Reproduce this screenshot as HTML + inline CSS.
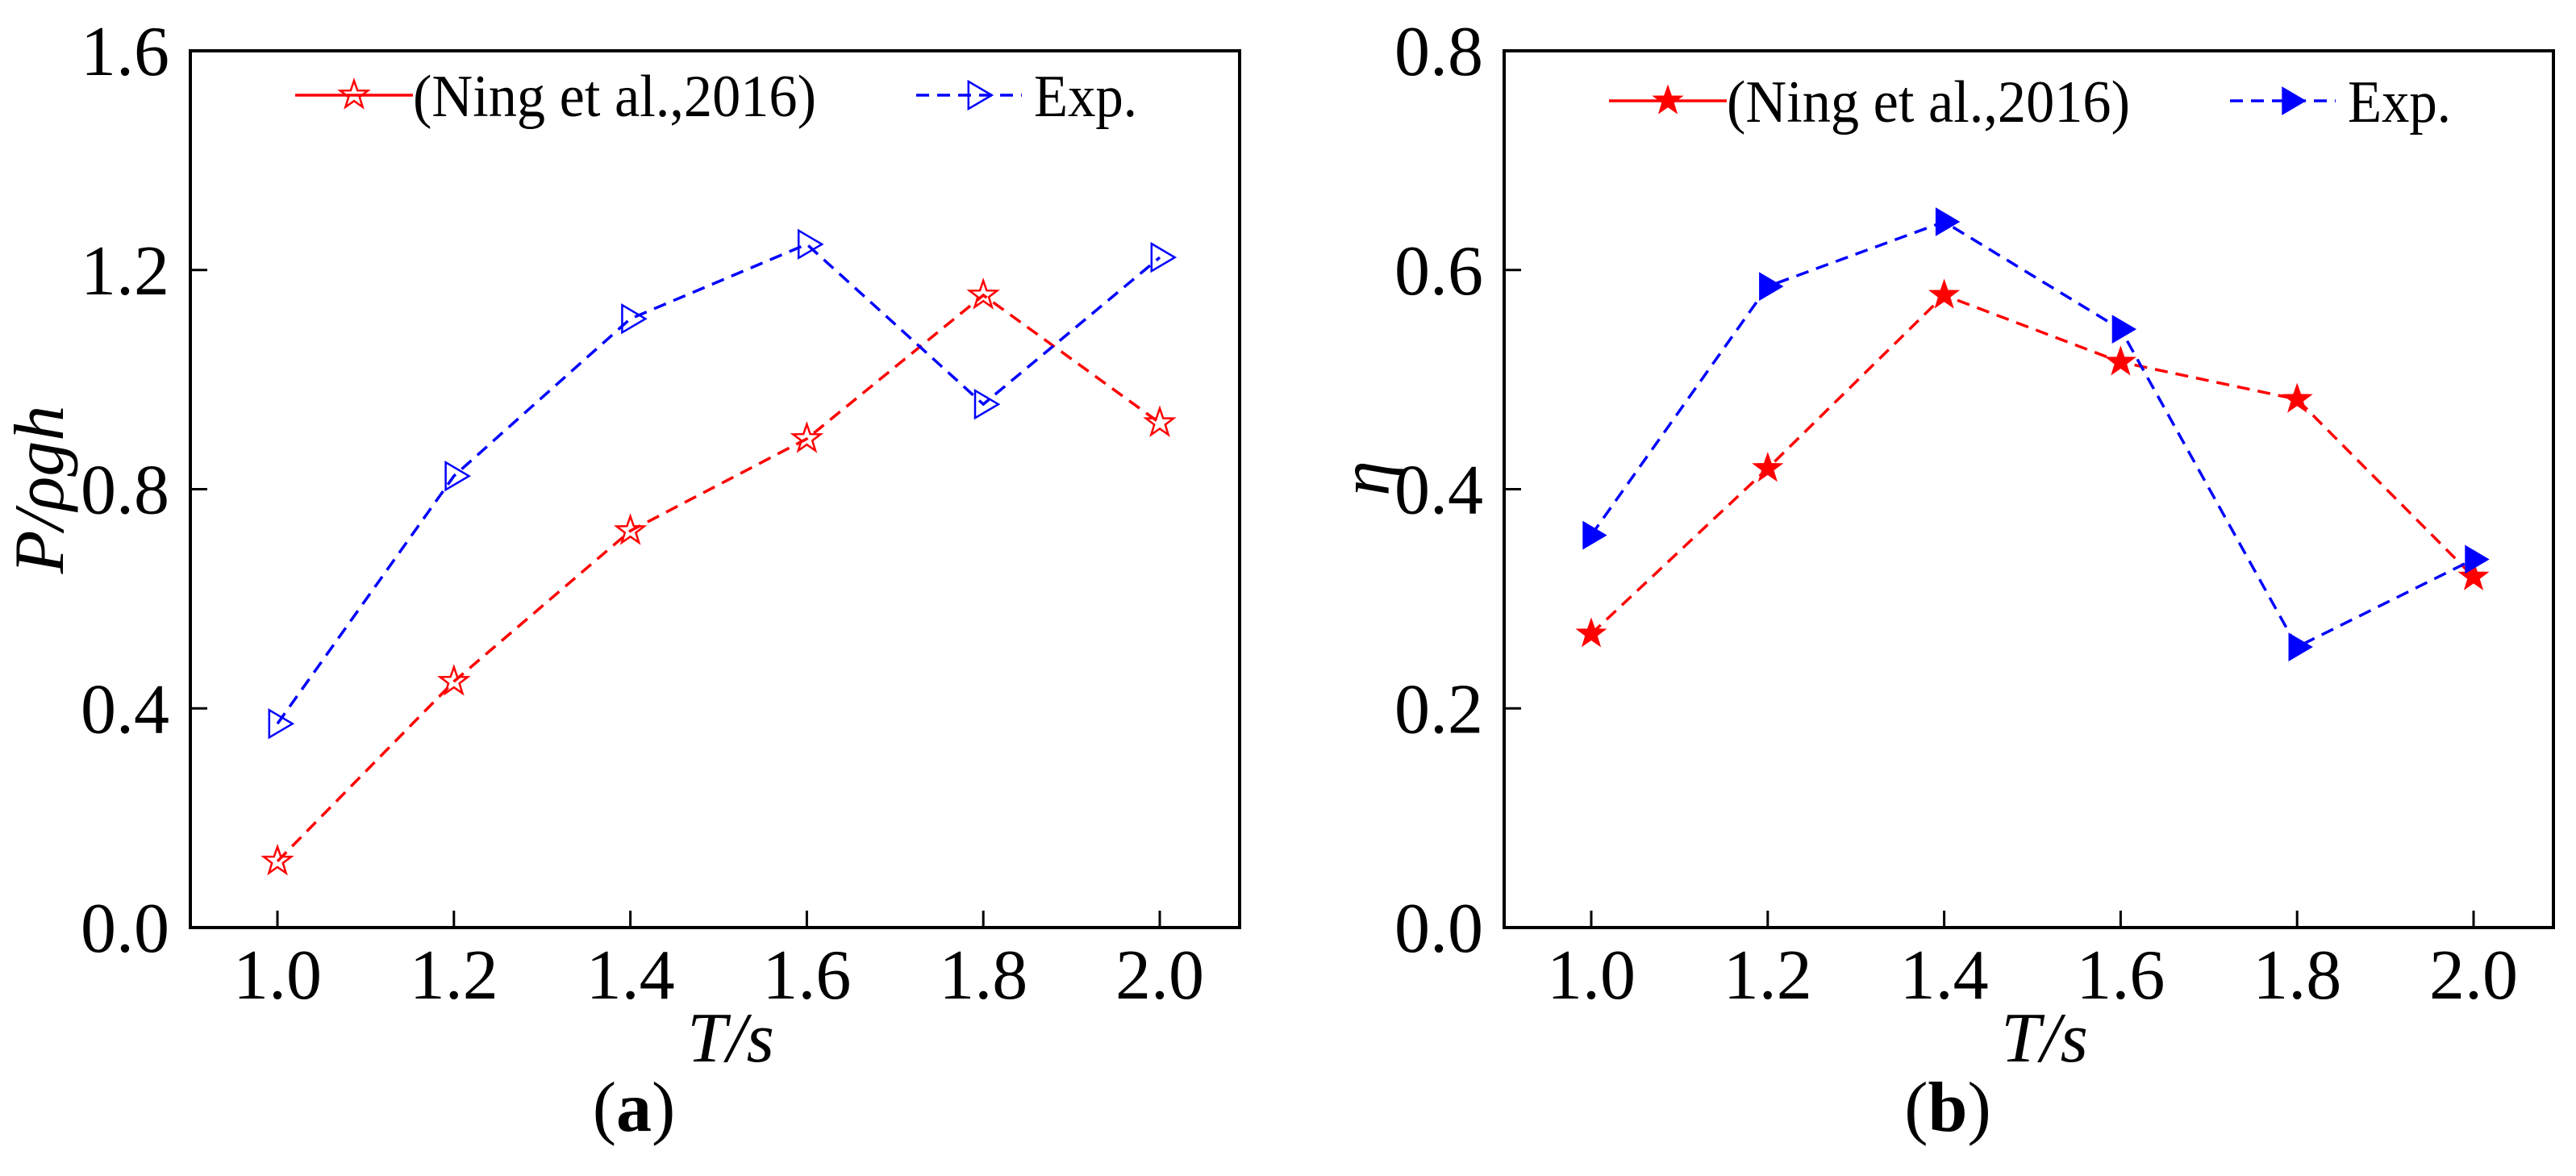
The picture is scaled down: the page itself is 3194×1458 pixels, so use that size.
<!DOCTYPE html>
<html><head><meta charset="utf-8">
<style>
html,body{margin:0;padding:0;background:#fff;}
svg, svg text{font-family:"Liberation Serif","Times New Roman",Times,serif;}
</style></head>
<body>
<svg id="fig" width="3194" height="1453" viewBox="0 0 3194 1453" xmlns="http://www.w3.org/2000/svg" font-family="Liberation Serif, Times New Roman, serif"></svg>
<script>
const categories = [1.0, 1.2, 1.4, 1.6, 1.8, 2.0];
const xTickLabels = ["1.0","1.2","1.4","1.6","1.8","2.0"];
const powerNing = [0.121, 0.449, 0.724, 0.892, 1.154, 0.921];
const powerExp = [0.372, 0.824, 1.111, 1.247, 0.955, 1.223];
const effNing = [0.268, 0.419, 0.577, 0.516, 0.482, 0.320];
const effExp = [0.358, 0.585, 0.644, 0.546, 0.256, 0.336];
const yTicksA = [0.0, 0.4, 0.8, 1.2, 1.6];
const yTickLabelsA = ["0.0","0.4","0.8","1.2","1.6"];
const yTicksB = [0.0, 0.2, 0.4, 0.6, 0.8];
const yTickLabelsB = ["0.0","0.2","0.4","0.6","0.8"];

const NS = "http://www.w3.org/2000/svg";
const FONT = "Liberation Serif, Times New Roman, serif";
const svg = document.getElementById('fig');
function mk(tag, attrs, parent, text){
  const e = document.createElementNS(NS, tag);
  for (const k in attrs) e.setAttribute(k, attrs[k]);
  if (tag === 'text') e.setAttribute('font-family', FONT);
  if (text !== undefined) e.textContent = text;
  (parent || svg).appendChild(e);
  return e;
}
function starPts(cx, cy, R){
  const r = R*0.4, p = [];
  for (let i=0;i<10;i++){
    const a = -Math.PI/2 + i*Math.PI/5, rr = i%2 ? r : R;
    p.push((cx+rr*Math.cos(a)).toFixed(1)+","+(cy+rr*Math.sin(a)).toFixed(1));
  }
  return p.join(" ");
}
function triPts(cx, cy, s){
  return `${cx-s*0.6},${cy-s} ${cx+s*1.1},${cy} ${cx-s*0.6},${cy+s}`;
}
function marker(g, type, cx, cy, filled){
  let el;
  if (type === 'star'){
    el = mk('polygon', {points: starPts(cx, cy, filled?19:18), fill: filled?'#ff0000':'none', stroke:'#ff0000', 'stroke-width': filled?1:2.5}, g);
  } else {
    el = mk('polygon', {points: triPts(cx, cy, 17), fill: filled?'#0000ff':'none', stroke:'#0000ff', 'stroke-width': filled?1:2.5}, g);
  }
  return el;
}

function panel(opt){
  const L = opt.left, R = opt.left + 1301, T = 63, B = 1150;
  const x0 = opt.left + 108, step = 218.8;
  const xs = v => x0 + (v - 1.0) / 0.2 * step;
  const ys = v => B - (v / opt.ymax) * (B - T);
  const g = mk('g', {});
  
  

  const series = [
    {vals: opt.red, color:'#ff0000', type:'star', name:'ning-2016-series'},
    {vals: opt.blue, color:'#0000ff', type:'tri', name:'exp-series'}
  ];
  series.forEach(s => {
    const sg = mk('g', {}, g);
    
    
    const pts = categories.map((c,i)=> xs(c)+","+ys(s.vals[i])).join(" ");
    const pl = mk('polyline', {points: pts, fill:'none', stroke:s.color, 'stroke-width':3.5, 'stroke-dasharray':'16 10'}, sg);
    
    
    categories.forEach((c,i)=>{
      const m = marker(sg, s.type, xs(c), ys(s.vals[i]), opt.filled);
      
      
    });
  });

  const fr = mk('rect', {x:L, y:T, width:R-L, height:B-T, fill:'none', stroke:'#000', 'stroke-width':4}, g);
  
  

  categories.forEach((c,i)=>{
    mk('line', {x1:xs(c), x2:xs(c), y1:B, y2:B-21, stroke:'#000', 'stroke-width':3}, g);
    const t = mk('text', {x:xs(c), y:1238, 'font-size':88, 'text-anchor':'middle'}, g, xTickLabels[i]);
    
    
  });
  opt.yTicks.forEach((v,i)=>{
    mk('line', {x1:L, x2:L+21, y1:ys(v), y2:ys(v), stroke:'#000', 'stroke-width':3}, g);
    const t = mk('text', {x:L-26, y:ys(v)+30, 'font-size':88, 'text-anchor':'end'}, g, opt.yLabels[i]);
    
    
  });

  const xt = mk('text', {x:L+670, y:1316, 'font-size':88, 'font-style':'italic', 'text-anchor':'middle'}, g, 'T/s');
  
  
  const yt = mk('text', {x:0, y:0, 'font-size':88, 'font-style':'italic', 'text-anchor':'middle', transform:`translate(${opt.ytX},${opt.ytY}) rotate(-90)`}, g, opt.ytitle);
  
  
  const cap = mk('text', {x:L+550, y:1402, 'font-size':88, 'text-anchor':'middle'}, g);
  
  
  mk('tspan', {}, cap, '(');
  mk('tspan', {'font-weight':'bold'}, cap, opt.cap);
  mk('tspan', {}, cap, ')');

  const lg = mk('g', {}, g);
  
  
  const ly = opt.legY, lb = opt.legY + 26;
  const e1 = mk('g', {}, lg);
  
  
  mk('line', {x1:L+130, x2:L+276, y1:ly, y2:ly, stroke:'#ff0000', 'stroke-width':3.5}, e1);
  marker(e1, 'star', L+203, ly, opt.filled);
  mk('text', {x:L+276, y:lb, 'font-size':74, textLength:500, lengthAdjust:'spacingAndGlyphs'}, e1, '(Ning et al.,2016)');
  const e2 = mk('g', {}, lg);
  
  
  mk('line', {x1:L+900, x2:L+1031, y1:ly, y2:ly, stroke:'#0000ff', 'stroke-width':3.5, 'stroke-dasharray':'16 10'}, e2);
  marker(e2, 'tri', L+975, ly, opt.filled);
  mk('text', {x:L+1046, y:lb, 'font-size':74, textLength:128, lengthAdjust:'spacingAndGlyphs'}, e2, 'Exp.');
}

panel({name:'panel-a-power', left:236, ymax:1.6, red:powerNing, blue:powerExp, filled:false,
  yTicks:yTicksA, yLabels:yTickLabelsA, ytitle:'P/ρgh', ytX:78, ytY:607, cap:'a', legY:118});
panel({name:'panel-b-efficiency', left:1865, ymax:0.8, red:effNing, blue:effExp, filled:true,
  yTicks:yTicksB, yLabels:yTickLabelsB, ytitle:'η', ytX:1722, ytY:593, cap:'b', legY:125});
</script>
</body></html>
